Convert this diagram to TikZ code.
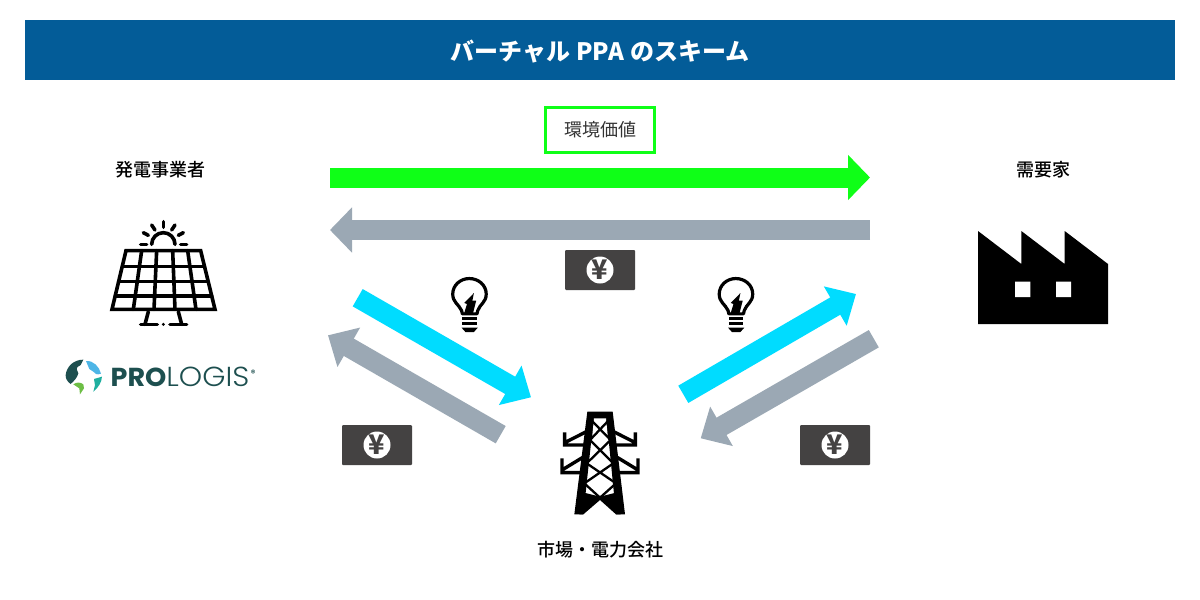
\documentclass[tikz,border=0pt]{standalone}
\usepackage{fontspec}
\usetikzlibrary{arrows.meta}
\newfontfamily\jpfont{Noto Sans CJK JP}
\newfontfamily\jpmed{Noto Sans CJK JP Medium}
\newfontfamily\logobold{Poppins Bold}
\newfontfamily\logolight{Poppins Light}
\definecolor{barblue}{HTML}{035C98}
\definecolor{vgreen}{HTML}{0FFF17}
\definecolor{paygrey}{HTML}{9BA8B4}
\definecolor{powercyan}{HTML}{00DCFF}
\definecolor{yendark}{HTML}{444242}
\definecolor{logoteal}{HTML}{1D4F4F}
\definecolor{logosky}{HTML}{4DB5E6}
\definecolor{logogreen}{HTML}{6DBE45}
\definecolor{logomint}{HTML}{1FAF9F}
\tikzset{
  lab/.style={font=\jpmed\fontsize{18}{22}\selectfont,text=black,inner sep=0pt},
  hbar/.style={line width=20pt,-{Triangle[length=22pt,width=44pt]}},
  dbar/.style={line width=20pt,-{Triangle[length=24pt,width=44pt]}},
  yenbox/.style={fill=yendark,rounded corners=1pt,minimum width=70pt,minimum height=40pt,inner sep=0pt},
  yencoin/.style={circle,fill=white,minimum size=27pt,inner sep=0pt,text=yendark,font=\jpfont\bfseries\fontsize{27}{27}\selectfont},
  icon/.style={line width=3.6pt,black,line cap=round,line join=round},
}
\begin{document}
\begin{tikzpicture}[x=1pt,y=-1pt]
\useasboundingbox (0,0) rectangle (1200,600);
\fill[white] (0,0) rectangle (1200,600);
\node[fill=barblue,minimum width=1150pt,minimum height=60pt,inner sep=0pt] (title) at (600,50) {};
\node[inner sep=0pt,text=white,font=\jpfont\bfseries\fontsize{24}{28}\selectfont] (titletext) at (600,52) {バーチャル\hspace{1pt} PPA\hspace{1pt} のスキーム};

\node[draw=vgreen,line width=3pt,minimum width=109pt,minimum height=45pt,inner sep=0pt,text height=16pt,text depth=2.4pt,font=\jpfont\fontsize{18}{22}\selectfont,text={rgb,255:red,51;green,51;blue,51}] (kankyo) at (600,130) {環境価値};
\node[lab] (gen) at (160,170) {発電事業者};
\node[lab] (cust) at (1043,170) {需要家};
\node[lab] (mkt) at (600,550) {市場・電力会社};

% block arrows
\coordinate (gS) at (330,177.5); \coordinate (gE) at (870,177.5);
\coordinate (pS) at (870,230);   \coordinate (pE) at (330,230);
\coordinate (b1S) at (357.7,297.7); \coordinate (b1E) at (531,397.3);
\coordinate (p1S) at (500.7,434.7); \coordinate (p1E) at (328,335.3);
\coordinate (b2S) at (683.3,394.3); \coordinate (b2E) at (856,294);
\coordinate (p2S) at (873.8,338.7); \coordinate (p2E) at (700.7,438.3);
\draw[hbar,vgreen] (gS) -- (gE);
\draw[hbar,paygrey] (pS) -- (pE);
\draw[dbar,powercyan] (b1S) -- (b1E);
\draw[dbar,paygrey] (p1S) -- (p1E);
\draw[dbar,powercyan] (b2S) -- (b2E);
\draw[dbar,paygrey] (p2S) -- (p2E);

% yen tags
\foreach \n/\cx/\cy in {a/600/270,b/377/445,c/835/445}{
  \node[yenbox] (box\n) at (\cx,\cy) {};
  \node[yencoin] (coin\n) at (\cx,\cy) {¥};
}

% solar panel (zoom coordinates)
\begin{scope}[shift={(50,210)},x=.33333pt,y=-.33333pt]
  \draw[icon,line join=miter] (228,122) -- (452,122) -- (495,298) -- (186,298) -- cycle;
  \draw[icon] (217,170) -- (463,170) (206,215) -- (474,215) (196,258) -- (485,258);
  \draw[icon] (275,122) -- (250,298) (320,122) -- (312,298) (368,122) -- (375,298) (413,122) -- (438,298);
  \draw[icon] (295,305) -- (285,343) (385,305) -- (395,343);
  \draw[icon] (272,343) -- (322,343) (360,343) -- (410,343);
  \fill (340,343) circle (5);
  \draw[icon] (305,103) arc[start angle=180,end angle=360,radius=35];
  \draw[icon] (272,103) -- (290,103) (392,103) -- (410,103) (340,35) -- (340,52);
  \draw[icon] (305,45) -- (315,60) (375,45) -- (365,60) (280,68) -- (295,76) (400,68) -- (385,76);
\end{scope}
% logo globe
\begin{scope}[shift={(60,355)},x=.33333pt,y=-.33333pt]
  \fill[logoteal] (17,60) .. controls (20,35) and (40,14) .. (70,14) -- (62,30) .. controls (55,34) and (48,38) .. (50,42) -- (55,55) .. controls (52,68) and (42,78) .. (32,87) .. controls (22,80) and (16,70) .. (17,60) -- cycle;
  \fill[logosky] (78,18) .. controls (100,16) and (118,35) .. (123,56) .. controls (112,60) and (104,58) .. (100,50) -- (88,42) -- cycle;
  \fill[logogreen] (40,88) .. controls (50,80) and (62,82) .. (70,88) -- (72,100) -- (60,118) -- (58,100) -- cycle;
  \fill[logomint] (102,72) -- (126,65) .. controls (125,82) and (115,98) .. (100,110) -- (105,90) -- cycle;
\end{scope}
\node[inner sep=0pt,anchor=base west,text=logoteal] (logo) at (110.5,386.5) {\logobold\fontsize{26}{26}\selectfont\scalebox{1.04}[1]{PRO}\logolight\fontsize{27.5}{27.5}\selectfont\scalebox{1.08}[1]{LOGIS}\hspace{1.5pt}\logobold\fontsize{9}{9}\selectfont\raisebox{10pt}{®}};

% tower
\begin{scope}[shift={(540,400)},x=.33333pt,y=-.33333pt]
  \fill (142,35) -- (218,35) -- (255,343) -- (228,343) -- (206,120) -- (154,120) -- (130,343) -- (103,343) -- cycle;
  \fill[white] (162,55) -- (198,55) -- (205,125) -- (155,125) -- cycle;
  \draw[line width=2.3pt] (155,62) -- (212,120) -- (140,190) -- (228,250) (205,62) -- (150,120) -- (220,190) -- (133,250);
  \draw[line width=2.3pt] (133,250) -- (180,293) -- (228,250);
  \fill (132,278) -- (180,290) -- (228,278) -- (242,343) -- (228,343) -- (180,300) -- (130,343) -- (118,343) -- cycle;
  \foreach \s/\o in {1/0,-1/360}{
    \begin{scope}[shift={(\o,0)},x=\s*.33333pt]
      \draw[line width=3.4pt,line join=miter] (74,97) -- (74,135) -- (145,135) (74,128) -- (145,92);
      \draw[line width=3.4pt,line join=miter] (66,175) -- (66,218) -- (135,218) (66,210) -- (140,165);
    \end{scope}
  }
\end{scope}

% bulbs
\foreach \ox in {443.1,709.6}{
\begin{scope}[shift={(\ox,272.6)},x=.385pt,y=-.33pt]
  \draw[icon,line width=3.2pt] (50,125) -- (48,115) .. controls (40,95) and (25,90) .. (25,65) .. controls (25,38) and (45,18) .. (68,18) .. controls (92,18) and (112,38) .. (112,65) .. controls (112,90) and (96,95) .. (90,115) -- (88,125) -- cycle;
  \draw[icon,line width=3.2pt,line cap=butt] (50,140) -- (88,140) (50,155) -- (88,155);
  \fill (48,167) -- (90,167) -- (80,180) -- (58,180) -- cycle;
  \fill (80,62) -- (76,85) -- (86,85) -- (78,122) -- (55,122) -- (62,95) -- (55,92) -- cycle;
\end{scope}
}

% factory
\begin{scope}[shift={(960,215)},x=.33333pt,y=-.33333pt]
  \fill (54,48) -- (184,147) -- (184,48) -- (314,147) -- (314,48) -- (444,147) -- (444,327) -- (54,327) -- cycle;
  \fill[white] (165,200) rectangle (211,246) (288,200) rectangle (333,246);
\end{scope}
\end{tikzpicture}
\end{document}
